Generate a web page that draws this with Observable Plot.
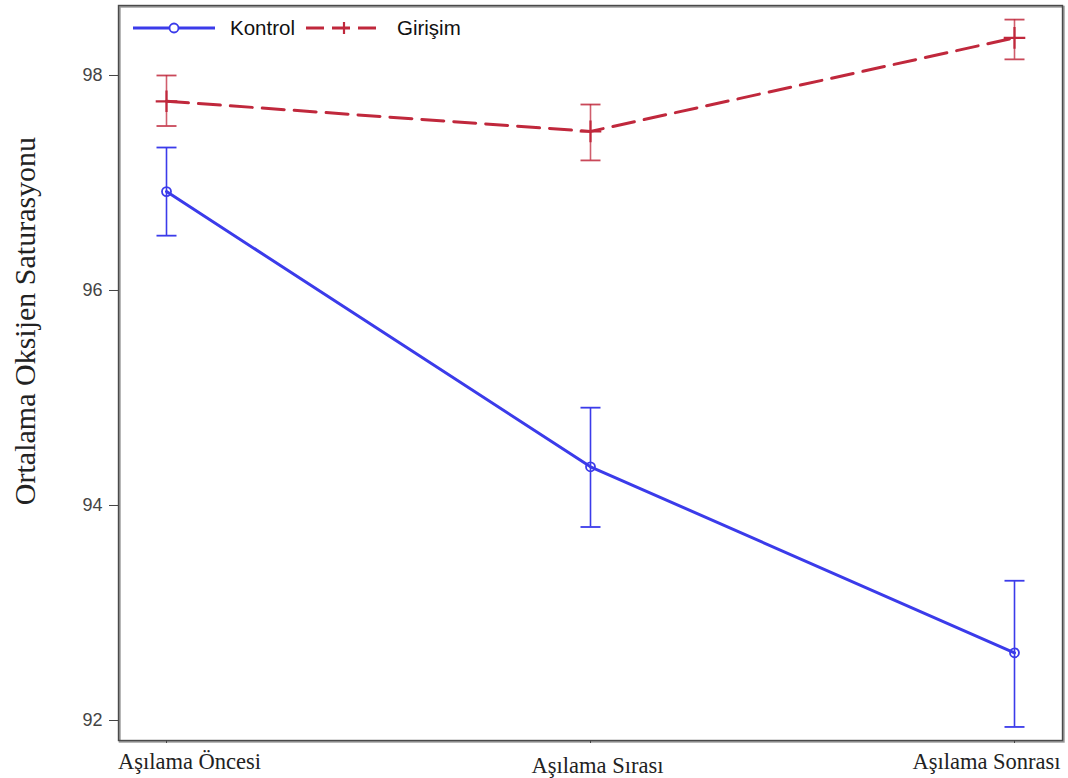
<!DOCTYPE html>
<html>
<head>
<meta charset="utf-8">
<script src="https://cdn.jsdelivr.net/npm/d3@7"></script>
<script src="https://cdn.jsdelivr.net/npm/@observablehq/plot@0.6"></script>
<style>
  html, body { margin: 0; padding: 0; background: #fff; }
  #wrap { position: relative; width: 1068px; height: 778px; }
  #legend { position: absolute; left: 132px; top: 16px; display: flex; align-items: center;
            font-family: "Liberation Sans", Arial, sans-serif; font-size: 20.5px; color: #111; }
  #legend .item { display: flex; align-items: center; margin-right: 10px; }
  #legend svg { margin-right: 14px; }
</style>
</head>
<body>
<div id="wrap"><div id="legend"></div></div>
<script>
const categories = ["Aşılama Öncesi", "Aşılama Sırası", "Aşılama Sonrası"];
const kontrolMean = [96.92, 94.36, 92.63];
const kontrolLow  = [96.51, 93.80, 91.94];
const kontrolHigh = [97.33, 94.91, 93.30];
const girisimMean = [97.76, 97.48, 98.35];
const girisimLow  = [97.53, 97.21, 98.15];
const girisimHigh = [98.00, 97.73, 98.52];
const yTicks = [92, 94, 96, 98];
const seriesNames = ["Kontrol", "Girişim"];
const yLabel = "Ortalama Oksijen Saturasyonu";

const blue = "#3b3bea";
const red = "#c0283c";

const data = [];
categories.forEach((c, i) => {
  data.push({cat: c, series: "Kontrol", mean: kontrolMean[i], lo: kontrolLow[i], hi: kontrolHigh[i]});
});
categories.forEach((c, i) => {
  data.push({cat: c, series: "Girişim", mean: girisimMean[i], lo: girisimLow[i], hi: girisimHigh[i]});
});
const kon = data.filter(d => d.series === "Kontrol");
const gir = data.filter(d => d.series === "Girişim");

const cap = {
  draw(context, size) {
    const r = Math.sqrt(size / Math.PI);
    context.moveTo(-r, 0);
    context.lineTo(r, 0);
  }
};

const serif = "'Liberation Serif', 'Times New Roman', serif";
const labelDx = [23, 7, -28];
const labelDy = [21, 25, 21];

const chart = Plot.plot({
  width: 1068,
  height: 778,
  marginLeft: 118,
  marginRight: 6,
  marginTop: 5,
  marginBottom: 38,
  style: {fontFamily: "'Liberation Sans', Arial, sans-serif", background: "#fff"},
  x: {type: "point", domain: categories, padding: 0.111},
  y: {domain: [91.814, 98.651]},
  marks: [
    Plot.frame({stroke: "#999", strokeWidth: 2, dx: 1.2, dy: 1.2}),
    Plot.frame({stroke: "#4a4a4a", strokeWidth: 1.4}),
    Plot.axisY({ticks: yTicks, tickFormat: d3.format("d"), tickSize: 9, tickPadding: 7, fontSize: 18, label: null, stroke: "#444", color: "#444"}),
    Plot.axisX({tickSize: 3, tickFormat: () => "", label: null, stroke: "#444"}),
    ...categories.map((c, i) => Plot.text([c], {x: d => d, frameAnchor: "bottom", lineAnchor: "middle",
      dx: labelDx[i], dy: labelDy[i], fontFamily: serif, fontSize: 22.5, fill: "#222"})),
    Plot.text([yLabel], {frameAnchor: "left", textAnchor: "middle", rotate: -90, dx: -93, dy: -52, fontFamily: serif, fontSize: 30, fill: "#222"}),
    // error bars
    Plot.ruleX(kon, {x: "cat", y1: "lo", y2: "hi", stroke: blue, strokeWidth: 1.6}),
    Plot.dot(kon, {x: "cat", y: "lo", symbol: cap, r: 10, stroke: blue, strokeWidth: 1.8}),
    Plot.dot(kon, {x: "cat", y: "hi", symbol: cap, r: 10, stroke: blue, strokeWidth: 1.8}),
    Plot.ruleX(gir, {x: "cat", y1: "lo", y2: "hi", stroke: red, strokeWidth: 1.6, strokeOpacity: 0.75}),
    Plot.dot(gir, {x: "cat", y: "lo", symbol: cap, r: 10, stroke: red, strokeWidth: 1.8, strokeOpacity: 0.85}),
    Plot.dot(gir, {x: "cat", y: "hi", symbol: cap, r: 10, stroke: red, strokeWidth: 1.8, strokeOpacity: 0.85}),
    // lines
    Plot.line(kon, {x: "cat", y: "mean", stroke: blue, strokeWidth: 3}),
    Plot.dot(kon, {x: "cat", y: "mean", symbol: "circle", r: 4.5, stroke: blue, strokeWidth: 1.8, fill: "none"}),
    Plot.line(gir, {x: "cat", y: "mean", stroke: red, strokeWidth: 3, strokeDasharray: "22,10"}),
    Plot.dot(gir, {x: "cat", y: "mean", symbol: "plus", r: 7, stroke: red, strokeWidth: 2.2})
  ]
});
const wrap = document.getElementById("wrap");
wrap.insertBefore(chart, wrap.firstChild);

// legend overlay
const legend = document.getElementById("legend");
const styles = [
  {color: blue, dash: null, sym: "circle"},
  {color: red, dash: "18,8", sym: "plus"}
];
seriesNames.forEach((name, i) => {
  const s = styles[i];
  const item = document.createElement("div");
  item.className = "item";
  const w = i === 0 ? 84 : 78;
  const svg = d3.create("svg").attr("width", w).attr("height", 20);
  svg.append("line").attr("x1", 1).attr("x2", w - 1).attr("y1", 10).attr("y2", 10)
    .attr("stroke", s.color).attr("stroke-width", 3).attr("stroke-dasharray", s.dash);
  if (s.sym === "circle") {
    svg.append("circle").attr("cx", w / 2).attr("cy", 10).attr("r", 4.5)
      .attr("fill", "white").attr("stroke", s.color).attr("stroke-width", 1.8);
  } else {
    svg.append("path").attr("d", `M${w/2-6},10H${w/2+6}M${w/2},4V16`).attr("stroke", s.color).attr("stroke-width", 2.2);
  }
  item.appendChild(svg.node());
  const t = document.createElement("span");
  t.textContent = name;
  item.appendChild(t);
  legend.appendChild(item);
});
chart.style.display = "block";
</script>
</body>
</html>
